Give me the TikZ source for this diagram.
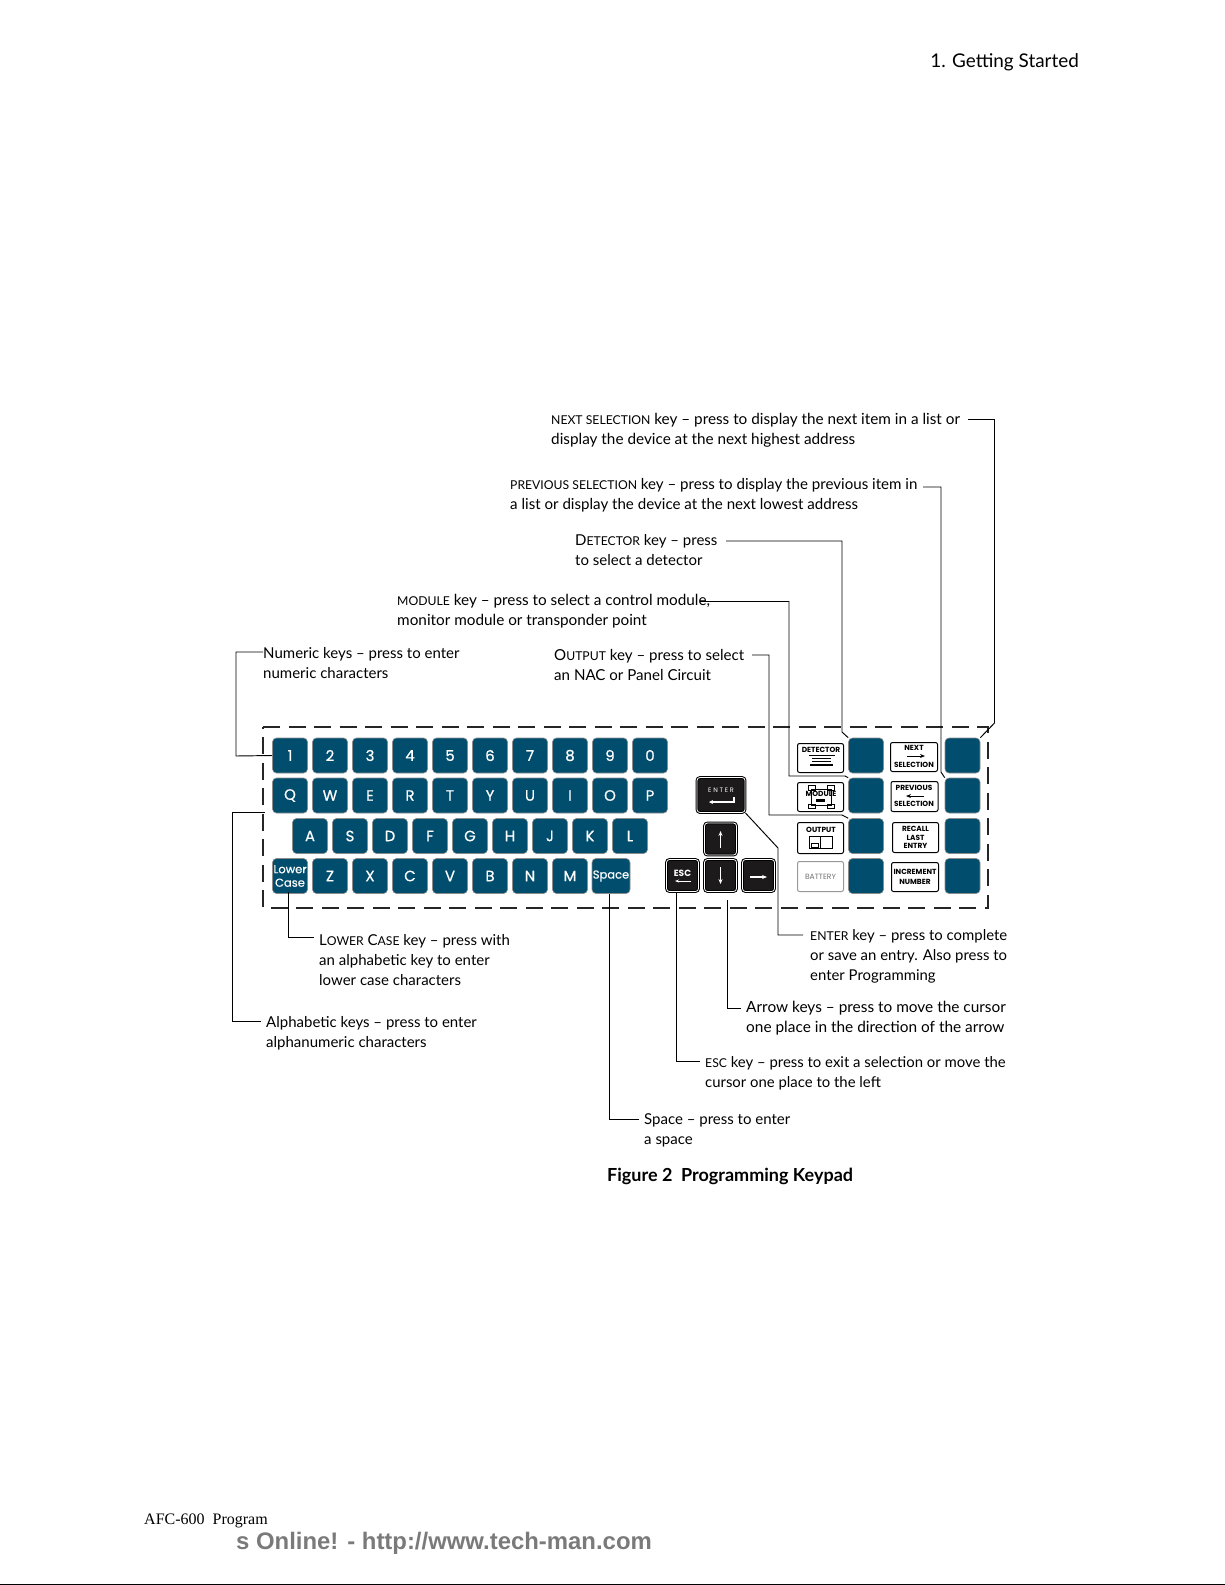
\documentclass[tikz,border=0pt]{standalone}
\usepackage{fontspec}
\setmainfont{Lato}
\newfontfamily\keyfont{Poppins}
\newfontfamily\keymed[FakeBold=0.5]{Poppins}
\newfontfamily\footfont{Liberation Serif}
\newfontfamily\wmfont{Liberation Sans}
\usetikzlibrary{arrows.meta}
\definecolor{keyblue}{RGB}{0,77,110}
\definecolor{keydark}{RGB}{28,26,26}
\newcommand{\smc}[1]{{\fontsize{12.2}{20}\selectfont #1}}
\newcommand{\fl}{\rule{0pt}{12pt}}
\tikzset{
 x=1pt,y=-1pt,
 desc/.style={anchor=north west,inner sep=0pt,align=left,font=\fontsize{#1}{20}\selectfont},
 desc/.default=15.3,
 key/.style={draw=black!45,line width=.6pt,fill=keyblue,rounded corners=4pt,minimum width=35pt,minimum height=35pt,inner sep=0pt,text=white,font=\keymed\fontsize{15}{15}\selectfont},
 smallkey/.style={key,font=\keymed\fontsize{11.5}{13.5}\selectfont,align=center},
 blankkey/.style={key},
 labelkey/.style={draw=black,line width=1pt,fill=white,rounded corners=2pt,minimum width=46pt,inner sep=0pt,align=center,font=\keyfont\bfseries\fontsize{7.4}{8.6}\selectfont},
 darkkey/.style={draw=black,line width=1pt,double=white,double distance=.8pt,fill=keydark,rounded corners=3pt,inner sep=0pt,text=white,font=\keyfont\bfseries\fontsize{9}{9}\selectfont},
 leader/.style={draw=black,line width=.95pt},
 glyph/.style={draw=white,line width=1.2pt},
 blackglyph/.style={draw=black,line width=1pt},
 frame/.style={draw=black!85,line width=1.3pt,dash pattern=on 17pt off 8.5pt}
}
\begin{document}
\begin{tikzpicture}
\useasboundingbox (0,0) rectangle (1225,1585);
\fill[black] (0,1583.5) rectangle (1225,1585);

\node[anchor=base east,inner sep=0pt,font=\fontsize{18.9}{24}\selectfont] (hdr) at (1079,67) {1. Getting Started};

% frame
\draw[frame] (263,727) -- (988,727) -- (988,908) -- (263,908) -- cycle;

% blue character keys
\foreach \c [count=\i from 0] in {1,2,3,4,5,6,7,8,9,0}
  \node[key] (num\c) at (290+40*\i,755.5) {\c};
\foreach \c [count=\i from 0] in {Q,W,E,R,T,Y,U,I,O,P}
  \node[key] (al\c) at (290+40*\i,795.5) {\c};
\foreach \c [count=\i from 0] in {A,S,D,F,G,H,J,K,L}
  \node[key] (al\c) at (310+40*\i,836) {\c};
\foreach \c [count=\i from 1] in {Z,X,C,V,B,N,M}
  \node[key] (al\c) at (290+40*\i,876) {\c};
\node[smallkey] (lower) at (290,876) {Lower\\Case};
\node[smallkey,minimum width=38pt] (space) at (611,876) {Space};

% blank function keys
\node[blankkey] (fa1) at (866,755.5) {};
\node[blankkey] (fa2) at (866,795.5) {};
\node[blankkey] (fa3) at (866,836) {};
\node[blankkey] (fa4) at (866,876) {};
\node[blankkey] (fb1) at (962.5,755.5) {};
\node[blankkey] (fb2) at (962.5,795.5) {};
\node[blankkey] (fb3) at (962.5,836) {};
\node[blankkey] (fb4) at (962.5,876) {};

% labelled keys
\node[labelkey,minimum height=29pt,anchor=north west,text depth=0pt] (det) at (797,743) {};
\node[font=\keyfont\bfseries\fontsize{7.4}{8.6}\selectfont,inner sep=0pt] (dett) at (821,749.5) {DETECTOR};
\fill[black] (809,754.5) rectangle (835,756);
\fill[black] (812,757.5) rectangle (831,759);
\fill[black] (812,760.5) rectangle (831,762);
\fill[black] (810,763.5) rectangle (833,765.5);

\node[labelkey,minimum height=29pt,anchor=north west] (mod) at (797,782) {};
\draw[blackglyph] (811,789) rectangle (831,805);
\draw[blackglyph] (808,785) rectangle (815,790);
\draw[blackglyph] (827,785) rectangle (834,790);
\draw[blackglyph] (808,804) rectangle (815,808);
\draw[blackglyph] (827,804) rectangle (834,808);
\node[font=\keyfont\bfseries\fontsize{7.4}{8.6}\selectfont,inner sep=0pt] (modt) at (821,794) {MODULE};
\fill[black] (816,798.5) rectangle (825,802);

\node[labelkey,minimum height=31pt,anchor=north west] (outk) at (797,822) {};
\node[font=\keyfont\bfseries\fontsize{7.4}{8.6}\selectfont,inner sep=0pt] (outt) at (821,829.5) {OUTPUT};
\draw[blackglyph] (809,836) rectangle (832,848);
\draw[blackglyph] (820,836) -- (820,848);
\draw[blackglyph] (811,843) rectangle (818.5,847);

\node[labelkey,draw=black!40,text=black!55,minimum height=30pt,anchor=north west,font=\keyfont\fontsize{7.6}{8.6}\selectfont] (bat) at (797,861) {BATTERY};

\node[labelkey,minimum width=47pt,minimum height=29pt,anchor=north west] (nxt) at (890,742) {};
\node[font=\keyfont\bfseries\fontsize{7.4}{8.6}\selectfont,inner sep=0pt] (nxt1) at (914,748) {NEXT};
\node[font=\keyfont\bfseries\fontsize{7.4}{8.6}\selectfont,inner sep=0pt] (nxt2) at (914,764.5) {SELECTION};
\draw[blackglyph,-{Stealth[length=5pt,width=4pt]}] (907,756) -- (925,756);

\node[labelkey,minimum width=47pt,minimum height=30pt,anchor=north west] (prv) at (890.5,781) {};
\node[font=\keyfont\bfseries\fontsize{7.4}{8.6}\selectfont,inner sep=0pt] (prv1) at (914,788) {PREVIOUS};
\node[font=\keyfont\bfseries\fontsize{7.4}{8.6}\selectfont,inner sep=0pt] (prv2) at (914,804) {SELECTION};
\draw[blackglyph,-{Stealth[length=5pt,width=4pt]}] (924,796) -- (906,796);

\node[labelkey,minimum width=46pt,minimum height=30pt,anchor=north west] (rec) at (892,822) {RECALL\\LAST\\ENTRY};
\node[labelkey,minimum width=47pt,minimum height=29pt,anchor=north west,font=\keyfont\bfseries\fontsize{7.4}{10.5}\selectfont] (inc) at (891,862) {INCREMENT\\NUMBER};

% dark keys
\node[darkkey,minimum width=48pt,minimum height=35pt] (enter) at (721,795) {};
\node[inner sep=0pt,text=white,font=\keyfont\fontsize{6.5}{7}\selectfont] (entt) at (721,790) {E N T E R};
\draw[glyph,-{Stealth[length=4pt,width=4pt]}] (734,797) -- (734,802) -- (709,802);
\node[darkkey,minimum width=32pt,minimum height=32pt] (up) at (720.5,839) {};
\draw[glyph,-{Stealth[length=5pt,width=4pt]}] (720.5,848) -- (720.5,831);
\node[darkkey,minimum width=32pt,minimum height=32pt] (down) at (720.5,875.5) {};
\draw[glyph,-{Stealth[length=5pt,width=4pt]}] (720.5,867) -- (720.5,884);
\node[darkkey,minimum width=32pt,minimum height=32pt] (rgt) at (758.5,875.5) {};
\draw[glyph,-{Stealth[length=5pt,width=4pt]}] (750,877) -- (767,877);
\node[darkkey,minimum width=32pt,minimum height=32pt] (esc) at (682.5,875.5) {};
\node[inner sep=0pt,text=white,font=\keyfont\bfseries\fontsize{9}{9}\selectfont] (esct) at (682.5,873) {ESC};
\draw[glyph,line width=1pt,-{Stealth[length=4pt,width=3pt]}] (691,881) -- (675,881);

% descriptions
\node[desc] (tnext) at (551,412.5) {\fl\smc{NEXT S}\smc{ELECTION} key -- press to display the next item in a list or\\display the device at the next highest address};
\node[desc=15.1] (tprev) at (510,477) {\fl\smc{PREVIOUS SELECTION} key -- press to display the previous item in\\a list or display the device at the next lowest address};
\node[desc=15] (tdet) at (575,533) {\fl D\smc{ETECTOR} key -- press\\to select a detector};
\node[desc] (tmod) at (397,593.5) {\fl\smc{MODULE} key -- press to select a control module,\\monitor module or transponder point};
\node[desc=15.1] (tout) at (554,648.5) {\fl O\smc{UTPUT} key -- press to select\\an NAC or Panel Circuit};
\node[desc=15] (tnum) at (263,646.5) {\fl Numeric keys -- press to enter\\numeric characters};
\node[desc=15] (tlow) at (319,933) {\fl L\smc{OWER} C\smc{ASE} key -- press with\\an alphabetic key to enter\\lower case characters};
\node[desc=15] (talp) at (266,1015) {\fl Alphabetic keys -- press to enter\\alphanumeric characters};
\node[desc=14.9] (tent) at (810,928.5) {\fl\smc{ENTER} key -- press to complete\\or save an entry. Also press to\\enter Programming};
\node[desc=15.4] (tarr) at (746,1000.5) {\fl Arrow keys -- press to move the cursor\\one place in the direction of the arrow};
\node[desc=14.9] (tesc) at (705,1055) {\fl\smc{ESC} key -- press to exit a selection or move the\\cursor one place to the left};
\node[desc=15] (tspc) at (644,1112) {\fl Space -- press to enter\\a space};
\node[anchor=base west,inner sep=0pt,font=\bfseries\fontsize{18}{20}\selectfont] (cap) at (607,1181) {Figure 2\ \ Programming Keypad};

% leader end points
\coordinate (lnext) at (968,419.5);
\coordinate (lprev) at (923,487);
\coordinate (ldet) at (726,541);
\coordinate (lmod) at (700,601.5);
\coordinate (lout) at (752,655);
\coordinate (lnum) at (263,652);
\coordinate (lalp) at (261,1021);
\coordinate (lalpk) at (265,812);
\coordinate (llow) at (314,937);
\coordinate (lspc) at (639,1119);
\coordinate (lesc) at (700,1061);
\coordinate (larr) at (741,1008);
\coordinate (larrk) at (727,900);
\coordinate (lent) at (803,935);
\coordinate (llowk) at (288.5,892);
\coordinate (lspck) at (609.5,894);

% leaders
\draw[leader] (lnext) -- (994.5,419.5) -- (994.5,723) -- (fb1.north east);
\draw[leader] (lprev) -- (941,487) -- (941,772) -- (fb2.north west);
\draw[leader] (ldet) -- (842,541) -- (842,732) -- (fa1.north west);
\draw[leader] (lmod) -- (789,601.5) -- (789,776) -- (845,776) -- (fa2.north west);
\draw[leader] (lout) -- (769,655) -- (769,815) -- (842,815) -- (fa3.north west);
\draw[leader] (lnum) -- (236,652) -- (236,756) -- (num1.west);
\draw[leader] (lalp) -- (232,1021) -- (232,812) -- (lalpk);
\draw[leader] (llow) -- (llowk |- llow) -- (llowk);
\draw[leader] (lspc) -- (lspck |- lspc) -- (lspck);
\draw[leader] (lesc) -- (676,1061) -- (676,892);
\draw[leader] (larr) -- (larrk |- larr) -- (larrk);
\draw[leader] (lent) -- (778,935) -- (778,848) -- (enter.south east);

% footer
\node[anchor=base west,inner sep=0pt,font=\footfont\fontsize{16}{18}\selectfont] (foot) at (144,1524) {AFC-600\ \ Program};
\node[anchor=base west,inner sep=0pt,text=black!52,font=\wmfont\bfseries\fontsize{23.9}{28}\selectfont] (wm) at (236,1549) {s Online! - http://www.tech-man.com};
\end{tikzpicture}
\end{document}
